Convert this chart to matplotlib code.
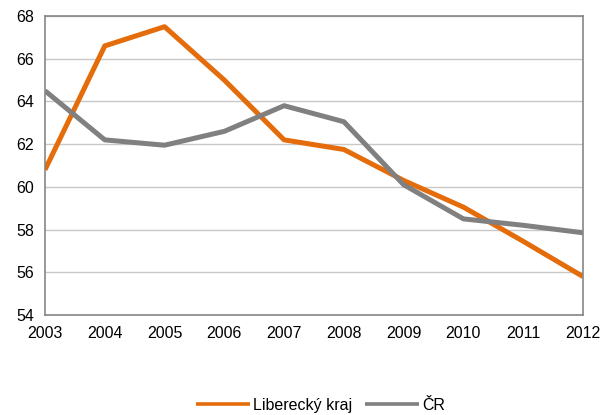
import matplotlib.pyplot as plt

years = [2003, 2004, 2005, 2006, 2007, 2008, 2009, 2010, 2011, 2012]
liberecky = [60.8, 66.6, 67.5, 65.0, 62.2, 61.75, 60.3, 59.05, 57.45, 55.8]
cr = [64.5, 62.2, 61.95, 62.6, 63.8, 63.05, 60.1, 58.5, 58.2, 57.85]
y_ticks = [54, 56, 58, 60, 62, 64, 66, 68]

plt.rcParams["font.family"] = ["Liberation Sans", "DejaVu Sans"]

fig = plt.figure(figsize=(6.05, 4.15), dpi=100)
ax = fig.add_axes([0.0744, 0.241, 0.8892, 0.7204])

ax.plot(years, liberecky, color="#E46C0A", linewidth=3.6, label="Liberecký kraj", solid_capstyle="butt")
ax.plot(years, cr, color="#808080", linewidth=3.6, label="ČR", solid_capstyle="butt")

ax.set_xlim(years[0], years[-1])
ax.set_ylim(54, 68)
ax.set_xticks(years)
ax.set_yticks(y_ticks)
ax.tick_params(length=0, labelsize=11.5, pad=8)
ax.grid(axis="y", color="#C8C8C8", linewidth=1)
ax.set_axisbelow(True)
for s in ax.spines.values():
    s.set_color("#868686")
    s.set_linewidth(1.2)

leg = fig.legend(loc="lower center", bbox_to_anchor=(0.53, -0.03), ncol=2, frameon=False,
                 fontsize=11.5, handlelength=3.4, columnspacing=0.8, handletextpad=0.2)
for line in leg.get_lines():
    line.set_linewidth(2.6)

fig.savefig("out.png", dpi=100)
